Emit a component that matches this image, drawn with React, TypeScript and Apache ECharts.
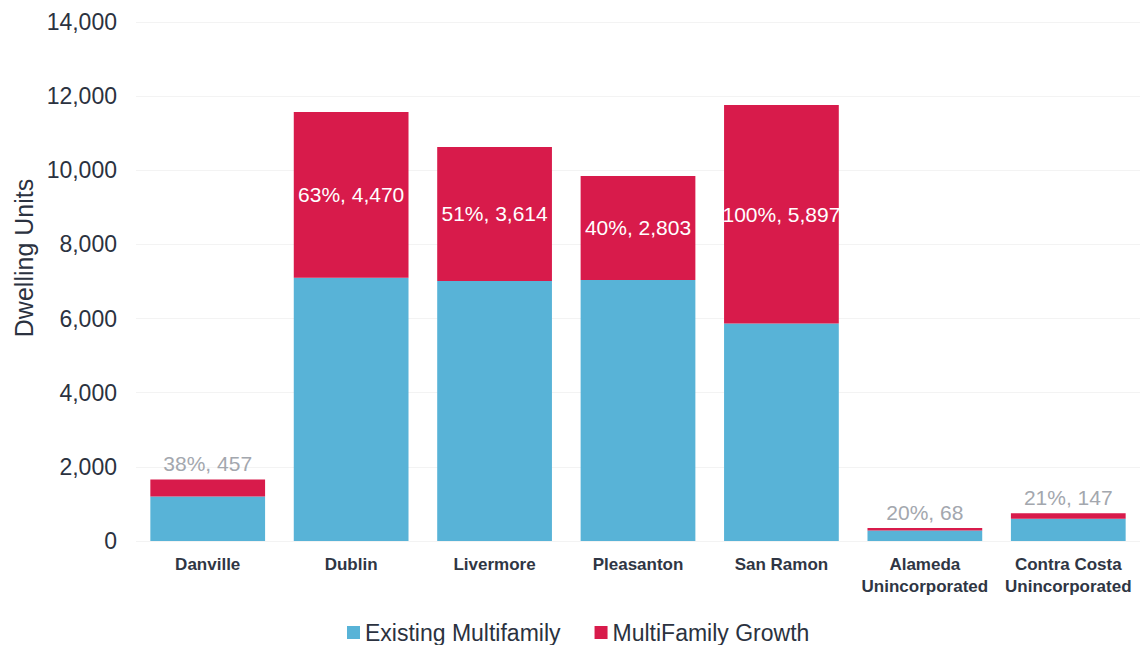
import React, { useEffect, useRef } from "react";
import * as echarts from "echarts";

const categories = [
  "Danville",
  "Dublin",
  "Livermore",
  "Pleasanton",
  "San Ramon",
  "Alameda\nUnincorporated",
  "Contra Costa\nUnincorporated",
];
const existing = [1203, 7102, 7014, 7043, 5864, 280, 600];
const growth = [457, 4470, 3614, 2803, 5897, 68, 147];
const growthPct = [38, 63, 51, 40, 100, 20, 21];
const labelInside = [false, true, true, true, true, false, false];
const yTicks = { min: 0, max: 14000, interval: 2000 };

export default function App() {
  const ref = useRef<HTMLDivElement>(null);
  useEffect(() => {
    if (!ref.current) return;
    const chart = echarts.init(ref.current, null, { renderer: "svg" });
    const fmt = (n: number) => n.toLocaleString("en-US");
    chart.setOption({
      animation: false,
      backgroundColor: "#ffffff",
      textStyle: { fontFamily: "Liberation Sans, Arial, sans-serif" },
      grid: { left: 136, top: 22, width: 1011, bottom: 104, containLabel: false },
      graphic: [
        {
          type: "text",
          x: 24,
          y: 258,
          rotation: Math.PI / 2,
          style: {
            text: "Dwelling Units",
            fontSize: 25,
            fill: "#2b3240",
            fontFamily: "Liberation Sans, Arial, sans-serif",
            align: "center",
            verticalAlign: "middle",
          },
        },
      ],
      legend: {
        left: 342,
        top: 616,
        itemWidth: 13,
        itemHeight: 13,
        itemGap: 34,
        itemTextGap: 4,
        icon: "rect",
        textStyle: { fontSize: 23, color: "#2b3240", fontFamily: "Liberation Sans, Arial, sans-serif" },
        data: ["Existing Multifamily", "MultiFamily Growth"],
      },
      xAxis: {
        type: "category",
        data: categories,
        axisLine: { show: false },
        axisTick: { show: false },
        axisLabel: {
          interval: 0,
          margin: 12,
          fontSize: 17,
          fontWeight: "bold",
          color: "#2f3644",
          lineHeight: 22,
        },
      },
      yAxis: {
        type: "value",
        min: yTicks.min,
        max: yTicks.max,
        interval: yTicks.interval,
        axisLine: { show: false },
        axisTick: { show: false },
        splitLine: { lineStyle: { color: "#f3f3f3" } },
        axisLabel: {
          margin: 19,
          fontSize: 23,
          color: "#2b3240",
          formatter: (v: number) => fmt(v),
        },
      },
      series: [
        {
          name: "Existing Multifamily",
          type: "bar",
          stack: "total",
          barCategoryGap: "20%",
          itemStyle: { color: "#58b3d7" },
          data: existing,
        },
        {
          name: "MultiFamily Growth",
          type: "bar",
          stack: "total",
          barCategoryGap: "20%",
          itemStyle: { color: "#d81b4b" },
          data: growth.map((g, i) => ({
            value: g,
            label: {
              show: true,
              position: labelInside[i] ? "inside" : "top",
              distance: 5,
              color: labelInside[i] ? "#ffffff" : "#a3a7ae",
              fontSize: 21,
              formatter: () => `${growthPct[i]}%, ${fmt(g)}`,
            },
          })),
        },
      ],
    });
    return () => chart.dispose();
  }, []);
  return (
    <div
      ref={ref}
      style={{ position: "absolute", left: 0, top: 0, width: 1140, height: 645 }}
    />
  );
}
